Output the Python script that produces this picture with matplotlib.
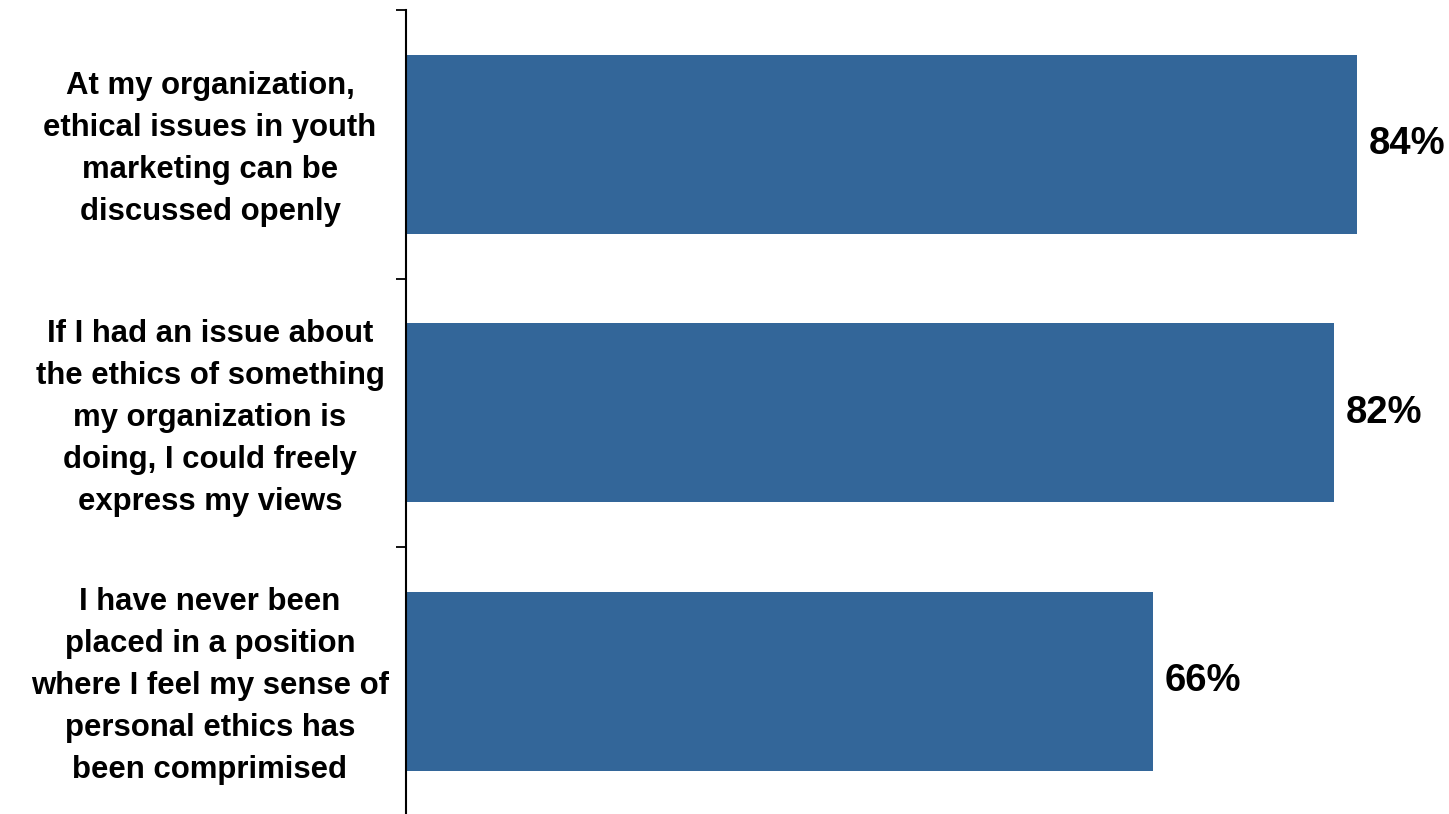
import matplotlib.pyplot as plt
from matplotlib.transforms import blended_transform_factory, offset_copy

# Survey statements and share agreeing (%)
statements = [
    "At my organization,\nethical issues in youth\nmarketing can be\ndiscussed openly",
    "If I had an issue about\nthe ethics of something\nmy organization is\ndoing, I could freely\nexpress my views",
    "I have never been\nplaced in a position\nwhere I feel my sense of\npersonal ethics has\nbeen comprimised",
]
values = [84, 82, 66]
value_labels = ["84%", "82%", "66%"]

bar_color = "#336699"
W, H = 1449, 814

fig = plt.figure(figsize=(W / 100, H / 100), dpi=100)
# plot area: axis line at x=406px, top at y=10px, bottom just below the figure
ax = fig.add_axes([406 / W, -1.5 / H, (W - 406) / W, 805.5 / H])

ypos = list(range(len(values)))
ax.barh(ypos, values, height=0.667, color=bar_color, zorder=2)

ax.set_xlim(0, (W - 406) / 11.32)
ax.set_ylim(2.5, -0.5)

# value labels at bar ends
for y, v, lab in zip(ypos, values, value_labels):
    ax.annotate(lab, xy=(v, y), xytext=(8.5, 0), textcoords="offset points",
                ha="left", va="center", fontsize=27.5, fontweight="bold",
                family="Liberation Sans", color="black")

# category labels, centred in the left margin (nudged down a few px)
trans = blended_transform_factory(fig.transFigure, ax.transData)
trans = offset_copy(trans, fig=fig, y=-5, units="dots")
for y, s in zip(ypos, statements):
    fig.text(210 / W, y, s, transform=trans, ha="center", va="center",
             multialignment="center", fontsize=22.4, fontweight="bold",
             family="Liberation Sans", linespacing=1.52)

# ticks at category boundaries only
ax.set_yticks([-0.5, 0.5, 1.5, 2.5])
ax.set_yticklabels([])
ax.tick_params(axis="y", direction="out", length=7.2, width=1.3, color="black")
ax.set_xticks([])
for side in ["top", "right", "bottom"]:
    ax.spines[side].set_visible(False)
ax.spines["left"].set_linewidth(1.5)
ax.spines["left"].set_color("black")

fig.savefig("out.png", dpi=100)
